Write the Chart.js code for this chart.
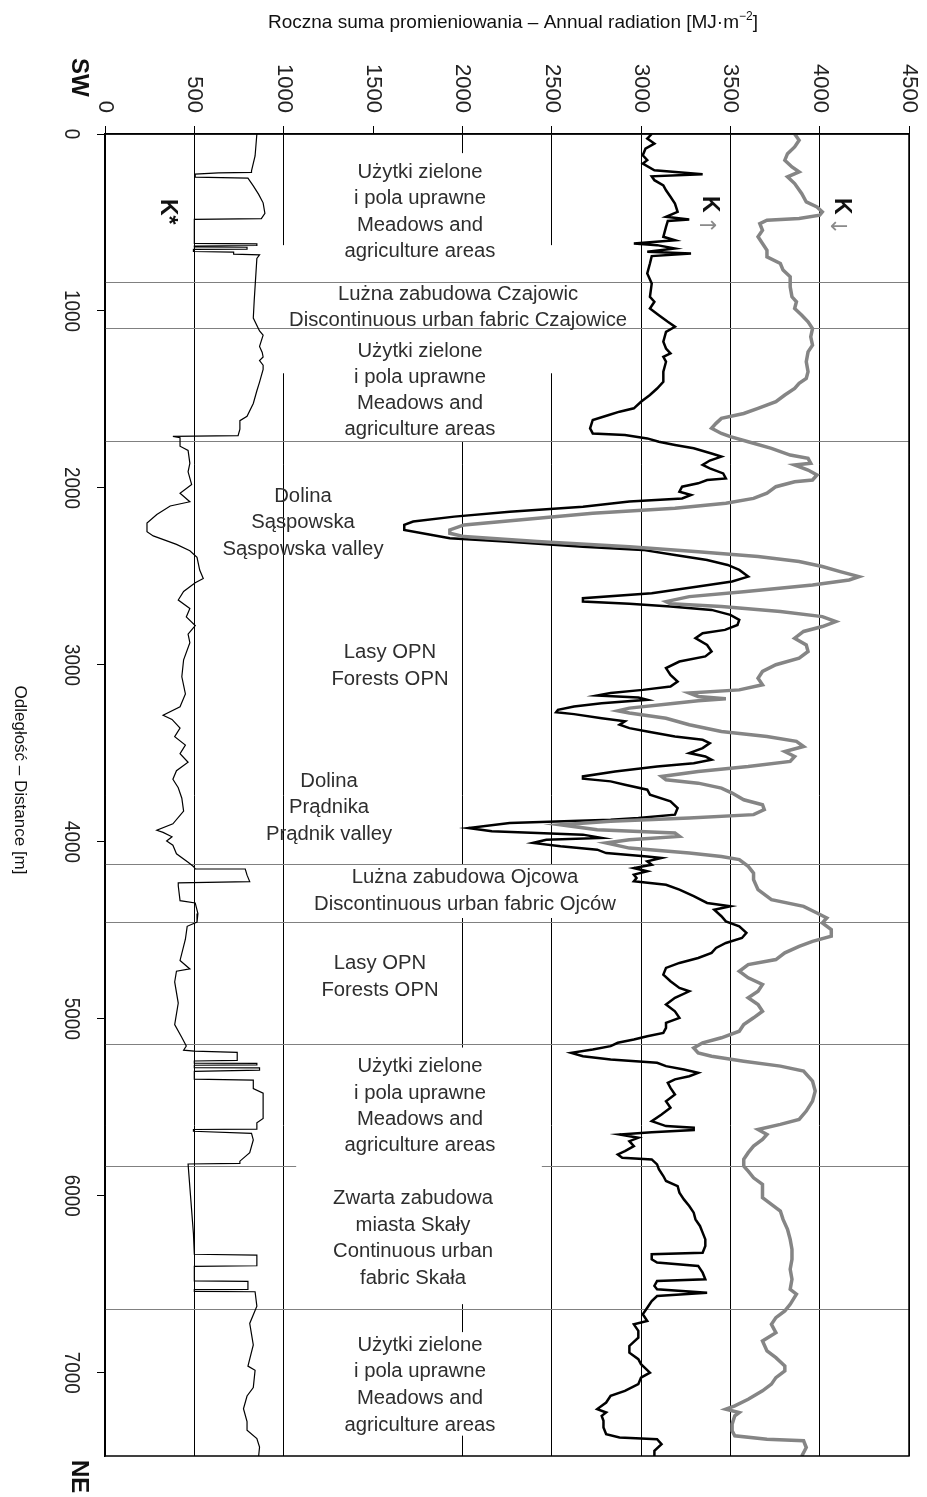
<!DOCTYPE html>
<html>
<head>
<meta charset="utf-8">
<script src="https://cdn.jsdelivr.net/npm/chart.js@4.4.0/dist/chart.umd.min.js"></script>
<style>
  body { margin: 0; background: #fff; }
  canvas { display: block; }
</style>
</head>
<body>
<canvas id="profile" width="927" height="1497"></canvas>
<script>
// radiation ticks (top axis) and distance ticks (left axis)
const radiationTicks = [0, 500, 1000, 1500, 2000, 2500, 3000, 3500, 4000, 4500];
const distanceTicks = [0, 1000, 2000, 3000, 4000, 5000, 6000, 7000];

// K* - net radiation profile
const kStarDist = [0,124,208,217,220,227,244,249,293,341,389,449,478,482,618,621,630,633,638,640,650,652,664,667,679,683,703,944,1040,1113,1137,1200,1234,1260,1280,1306,1330,1402,1451,1523,1595,1620,1668,1704,1709,1716,1764,1788,1861,1909,1981,2030,2078,2102,2150,2198,2247,2271,2319,2355,2392,2464,2512,2536,2585,2633,2681,2729,2778,2826,2874,2971,3067,3164,3236,3284,3308,3357,3405,3453,3501,3550,3598,3646,3694,3753,3826,3898,3934,3946,3971,3995,4019,4067,4115,4139,4152,4153,4188,4224,4231,4248,4332,4345,4405,4453,4477,4550,4670,4718,4731,4791,4911,5032,5105,5153,5177,5182,5189,5235,5238,5250,5252,5260,5262,5275,5277,5290,5297,5341,5346,5394,5420,5563,5587,5623,5625,5635,5647,5684,5756,5804,5816,5820,6214,6330,6335,6395,6398,6480,6483,6528,6530,6540,6542,6624,6721,6842,6962,6986,7083,7131,7203,7276,7324,7372,7420,7470];
const kStarVal = [850,840,820,820,635,505,505,800,830,860,885,895,875,500,500,850,850,500,500,795,795,495,495,720,720,865,850,835,830,865,885,865,880,885,865,885,885,865,850,830,795,755,755,745,380,420,420,465,475,465,485,420,475,365,290,235,235,270,400,475,515,530,550,505,440,410,475,455,505,465,475,440,430,450,420,325,375,420,390,450,420,465,400,380,410,430,440,380,290,325,375,345,380,400,465,495,505,785,795,810,410,410,420,505,520,515,460,450,420,475,400,390,410,390,430,455,440,500,740,740,500,500,850,850,500,500,865,865,500,500,830,830,885,885,850,850,495,495,820,830,810,755,755,465,495,500,850,850,500,500,800,800,500,500,840,850,810,830,800,840,830,795,775,795,795,850,865,860];

// K up - reflected radiation
const kUpDist = [0,26,54,83,120,148,167,205,227,239,261,290,318,355,393,440,468,483,491,525,581,600,619,628,647,666,675,690,732,788,845,920,948,986,1024,1061,1089,1118,1174,1212,1240,1259,1287,1343,1400,1438,1475,1513,1550,1569,1588,1616,1663,1692,1701,1720,1739,1757,1776,1805,1823,1845,1870,1889,1918,1946,1955,1974,1993,2021,2040,2059,2077,2106,2134,2162,2190,2209,2237,2266,2284,2303,2332,2350,2379,2407,2435,2463,2501,2529,2557,2595,2623,2642,2655,2670,2689,2717,2745,2774,2802,2821,2849,2887,2924,2952,2981,3018,3056,3094,3122,3141,3159,3173,3184,3197,3216,3235,3254,3267,3278,3301,3319,3338,3357,3376,3404,3423,3442,3470,3498,3517,3536,3555,3574,3602,3630,3643,3658,3677,3705,3733,3771,3809,3846,3865,3875,3893,3922,3940,3959,3978,3988,4006,4025,4044,4063,4082,4091,4110,4129,4148,4166,4185,4204,4223,4242,4270,4307,4345,4364,4383,4420,4449,4477,4514,4543,4571,4599,4627,4656,4684,4712,4750,4787,4825,4844,4881,4919,4957,4994,5023,5051,5079,5098,5117,5135,5154,5173,5192,5211,5229,5248,5267,5286,5305,5324,5342,5361,5390,5427,5465,5502,5540,5578,5606,5615,5628,5640,5653,5672,5691,5719,5747,5766,5785,5794,5822,5850,5888,5916,5945,5982,6020,6057,6095,6133,6170,6208,6246,6283,6321,6330,6359,6377,6396,6434,6471,6481,6509,6528,6547,6566,6594,6632,6669,6707,6726,6763,6801,6848,6886,6923,6951,6999,7027,7064,7102,7130,7168,7205,7224,7243,7271,7309,7347,7365,7375,7403,7441,7470];
const kUpVal = [3060,3035,3075,3025,3010,3035,3010,3075,3345,3060,3075,3125,3140,3165,3190,3205,3140,3270,3150,3140,3125,3190,2960,3090,3190,3035,3280,3060,3050,3035,3060,3050,3075,3050,3100,3150,3190,3140,3125,3140,3165,3125,3140,3125,3125,3090,3050,3000,2960,2880,2820,2730,2715,2730,2910,3035,3100,3190,3295,3395,3450,3385,3345,3385,3460,3475,3370,3320,3230,3215,3280,3230,2935,2675,2265,1955,1725,1675,1675,1830,1930,2240,2675,3010,3190,3370,3485,3550,3600,3510,3320,3060,2675,2675,2935,3165,3395,3500,3550,3540,3470,3345,3305,3370,3395,3360,3215,3140,3165,3205,3165,3010,2830,2755,2985,3035,2780,2625,2535,2525,2625,2780,2910,2880,2935,3035,3190,3345,3385,3345,3270,3360,3395,3295,3090,2855,2675,2675,2830,2910,3035,3050,3165,3205,3190,2985,2830,2265,2035,2165,2675,2780,2470,2395,2550,2755,2805,3035,3115,3035,3060,2960,3035,2960,2975,2960,3140,3215,3295,3370,3500,3410,3450,3475,3550,3590,3565,3475,3420,3395,3320,3215,3140,3125,3165,3215,3270,3190,3140,3190,3215,3140,3140,3125,3035,2960,2870,2830,2730,2610,2675,2830,3090,3140,3240,3320,3270,3190,3150,3165,3190,3140,3165,3115,3060,3140,3295,3295,3060,2880,2985,2935,2960,2910,2870,2895,3060,3090,3100,3125,3140,3205,3215,3240,3270,3295,3305,3330,3345,3360,3360,3345,3060,3060,3090,3320,3345,3360,3090,3075,3090,3370,3090,3060,3035,3010,3035,2960,2985,2985,2935,2935,2985,3000,3050,3000,2985,2910,2830,2805,2755,2805,2780,2790,2790,2805,2880,3090,3115,3075,3075];

// K down - incoming radiation
const kDownDist = [0,35,73,111,148,186,214,242,280,337,384,412,440,459,478,487,506,544,581,619,657,694,732,769,807,864,920,948,986,1024,1061,1099,1146,1193,1231,1287,1343,1381,1409,1438,1475,1513,1550,1579,1607,1635,1663,1692,1710,1739,1776,1814,1833,1861,1870,1899,1927,1955,1965,1993,2030,2059,2087,2115,2143,2181,2209,2237,2256,2275,2303,2332,2360,2388,2416,2444,2473,2501,2520,2548,2586,2614,2642,2655,2670,2698,2727,2755,2783,2811,2849,2887,2924,2962,2999,3037,3075,3112,3141,3159,3178,3191,3203,3216,3244,3259,3272,3301,3338,3376,3404,3432,3461,3489,3517,3545,3574,3602,3630,3649,3668,3696,3724,3762,3790,3818,3846,3865,3884,3903,3931,3950,3969,3988,4006,4035,4063,4082,4100,4138,4176,4213,4270,4326,4364,4402,4430,4458,4496,4533,4562,4590,4627,4665,4693,4731,4768,4806,4844,4881,4919,4957,4994,5032,5070,5107,5135,5164,5192,5211,5239,5267,5295,5352,5408,5465,5521,5568,5596,5625,5653,5681,5719,5756,5794,5832,5860,5898,5935,5973,6010,6048,6086,6133,6189,6246,6302,6359,6415,6471,6528,6556,6613,6650,6688,6726,6773,6820,6876,6914,6961,6989,7027,7064,7102,7149,7187,7205,7224,7243,7290,7328,7356,7375,7384,7422,7470];
const kDownVal = [3860,3885,3860,3820,3805,3845,3885,3820,3860,3900,3925,3985,4015,4000,3885,3705,3665,3680,3655,3680,3705,3705,3780,3795,3835,3835,3845,3870,3860,3900,3935,3960,3950,3960,3935,3925,3935,3925,3885,3860,3805,3755,3655,3575,3450,3420,3395,3450,3500,3600,3730,3835,3935,3950,3860,3935,3985,3960,3860,3755,3705,3630,3475,3190,2730,2315,2010,1930,1930,2010,2420,2935,3320,3655,3885,4015,4115,4220,4165,3960,3575,3270,3140,3165,3450,3780,4015,4090,4015,3910,3860,3925,3935,3885,3755,3680,3655,3680,3550,3270,3320,3475,3320,3190,2935,2870,2935,3140,3270,3450,3705,3870,3910,3805,3860,3835,3600,3320,3115,3140,3320,3450,3510,3575,3680,3690,3630,3270,2830,2550,2755,3190,3215,2935,2805,2935,3270,3450,3550,3600,3630,3630,3655,3730,3910,3985,4040,4015,4065,4065,3960,3885,3805,3755,3600,3550,3600,3680,3655,3600,3655,3680,3630,3575,3550,3450,3345,3295,3320,3395,3575,3780,3910,3960,3975,3960,3925,3885,3780,3655,3705,3680,3630,3600,3575,3575,3600,3630,3680,3680,3680,3730,3780,3795,3820,3835,3845,3845,3835,3845,3835,3870,3835,3805,3755,3730,3755,3680,3705,3755,3805,3805,3755,3730,3680,3600,3525,3475,3550,3525,3510,3510,3525,3705,3910,3925,3900];

// land-use zone boundaries [m]
const zoneBounds = [837, 1099, 1737, 4124, 4450, 5140, 5833, 6640];

// land-use labels: centre value, baseline distances, text lines
const zoneLabels = [
  { v: 1763, d: [250, 397, 549, 696], lines: ['Użytki zielone', 'i pola uprawne', 'Meadows and', 'agriculture areas'] },
  { v: 1976, d: [939, 1086], lines: ['Lużna zabudowa Czajowic', 'Discontinuous urban fabric Czajowice'] },
  { v: 1763, d: [1261, 1407, 1554, 1701], lines: ['Użytki zielone', 'i pola uprawne', 'Meadows and', 'agriculture areas'] },
  { v: 1108, d: [2079, 2226, 2378], lines: ['Dolina', 'Sąspowska', 'Sąspowska valley'] },
  { v: 1595, d: [2960, 3113], lines: ['Lasy OPN', 'Forests OPN'] },
  { v: 1254, d: [3688, 3835, 3987], lines: ['Dolina', 'Prądnika', 'Prądnik valley'] },
  { v: 2015, d: [4230, 4383], lines: ['Lużna zabudowa Ojcowa', 'Discontinuous urban fabric Ojców'] },
  { v: 1539, d: [4720, 4873], lines: ['Lasy OPN', 'Forests OPN'] },
  { v: 1763, d: [5303, 5455, 5602, 5749], lines: ['Użytki zielone', 'i pola uprawne', 'Meadows and', 'agriculture areas'] },
  { v: 1724, d: [6048, 6200, 6347, 6499], lines: ['Zwarta zabudowa', 'miasta Skały', 'Continuous urban', 'fabric Skała'] },
  { v: 1763, d: [6878, 7025, 7177, 7330], lines: ['Użytki zielone', 'i pola uprawne', 'Meadows and', 'agriculture areas'] }
];

// parts of the grid hidden behind the label boxes [v0, v1, d0, d1]
const gridMasks = [
  [920, 2610, 628, 1352],
  [1800, 2200, 108, 1740],
  [1100, 2800, 4126, 4430],
  [1800, 2200, 5162, 6612],
  [1800, 2200, 6770, 7355]
];
const lineGaps = [[1070, 2445, 5820, 5846]];

const SANS = '"Liberation Sans", Arial, sans-serif';

function toPoints(dist, val) {
  return dist.map((d, i) => ({ x: val[i], y: d }));
}

// text rotated 90deg clockwise (reads top to bottom)
function rotText(ctx, text, px, py, font, align, color, sx) {
  ctx.save();
  ctx.translate(px, py);
  ctx.rotate(Math.PI / 2);
  ctx.scale(sx || 1, 1);
  ctx.font = font;
  ctx.fillStyle = color || '#000';
  ctx.textAlign = align;
  ctx.textBaseline = 'middle';
  ctx.fillText(text, 0, 0);
  ctx.restore();
}

function boxPx(x, y, b) {
  const x0 = x.getPixelForValue(b[0]), x1 = x.getPixelForValue(b[1]);
  const y0 = y.getPixelForValue(b[2]), y1 = y.getPixelForValue(b[3]);
  return [x0, y0, x1 - x0, y1 - y0];
}

const decor = {
  id: 'decor',
  beforeDatasetsDraw(chart) {
    const { ctx, chartArea, scales: { x, y } } = chart;
    ctx.save();
    ctx.fillStyle = '#fff';
    gridMasks.forEach(b => ctx.fillRect(...boxPx(x, y, b)));
    ctx.strokeStyle = '#808080';
    ctx.lineWidth = 1;
    zoneBounds.forEach(d => {
      const py = Math.round(y.getPixelForValue(d)) + 0.5;
      ctx.beginPath();
      ctx.moveTo(chartArea.left, py);
      ctx.lineTo(chartArea.right, py);
      ctx.stroke();
    });
    lineGaps.forEach(b => ctx.fillRect(...boxPx(x, y, b)));
    ctx.restore();
  },
  afterDatasetsDraw(chart) {
    const { ctx, scales: { x, y } } = chart;
    ctx.save();
    ctx.font = '20px ' + SANS;
    const sx = 338 / ctx.measureText('Discontinuous urban fabric Czajowice').width;
    ctx.fillStyle = '#2e2e2e';
    ctx.textAlign = 'center';
    ctx.textBaseline = 'alphabetic';
    zoneLabels.forEach(z => {
      const px = x.getPixelForValue(z.v);
      z.lines.forEach((t, i) => {
        ctx.save();
        ctx.translate(px, y.getPixelForValue(z.d[i]));
        ctx.scale(sx, 1);
        ctx.fillText(t, 0, 0);
        ctx.restore();
      });
    });
    ctx.restore();
  },
  afterDraw(chart) {
    const { ctx, chartArea: a, scales: { x, y } } = chart;
    ctx.save();
    ctx.strokeStyle = '#000';
    ctx.lineWidth = 1.5;
    ctx.strokeRect(a.left, a.top, a.right - a.left, a.bottom - a.top);

    radiationTicks.forEach(v => rotText(ctx, String(v), x.getPixelForValue(v), 113, '22px ' + SANS, 'right', '#222'));
    distanceTicks.forEach(d => rotText(ctx, String(d), 71, y.getPixelForValue(d), '22px ' + SANS, 'center', '#222', 0.86));

    rotText(ctx, 'SW', 79, 58, 'bold 24px ' + SANS, 'left', '#111');
    rotText(ctx, 'NE', 79, 1460, 'bold 24px ' + SANS, 'left', '#111');
    rotText(ctx, 'Odległość – Distance [m]', 20, 780, '17px ' + SANS, 'center', '#111');

    rotText(ctx, 'K*', 167, 199, 'bold 23px ' + SANS, 'left', '#111');
    rotText(ctx, 'K', 709, 196, 'bold 23px ' + SANS, 'left', '#111');
    rotText(ctx, '↑', 706, 216, '22px "DejaVu Sans", sans-serif', 'left', '#8a8a8a');
    rotText(ctx, 'K', 841, 198, 'bold 23px ' + SANS, 'left', '#111');
    rotText(ctx, '↓', 837, 217, '22px "DejaVu Sans", sans-serif', 'left', '#8a8a8a');

    // title with superscript
    const main = 'Roczna suma promieniowania – Annual radiation [MJ·m';
    ctx.fillStyle = '#111';
    ctx.textBaseline = 'alphabetic';
    ctx.textAlign = 'left';
    ctx.font = '19px ' + SANS;
    const w1 = ctx.measureText(main).width;
    ctx.font = '12px ' + SANS;
    const w2 = ctx.measureText('−2').width;
    ctx.font = '19px ' + SANS;
    const w3 = ctx.measureText(']').width;
    const tx = 513 - (w1 + w2 + w3) / 2;
    ctx.fillText(main, tx, 28);
    ctx.font = '12px ' + SANS;
    ctx.fillText('−2', tx + w1, 20);
    ctx.font = '19px ' + SANS;
    ctx.fillText(']', tx + w1 + w2, 28);
    ctx.restore();
  }
};

const line = (label, dist, val, color, width, order) => ({
  label, data: toPoints(dist, val), showLine: true, borderColor: color,
  borderWidth: width, pointRadius: 0, tension: 0, order,
  borderJoinStyle: 'miter', fill: false
});

new Chart(document.getElementById('profile'), {
  type: 'scatter',
  data: {
    datasets: [
      line('K↓', kDownDist, kDownVal, '#858585', 3.5, 0),
      line('K↑', kUpDist, kUpVal, '#000', 2.5, 1),
      line('K*', kStarDist, kStarVal, '#000', 1.2, 2)
    ]
  },
  options: {
    responsive: false,
    devicePixelRatio: 1,
    animation: false,
    layout: { padding: { top: 126, left: 97, right: 18, bottom: 41 } },
    plugins: { legend: { display: false }, tooltip: { enabled: false }, title: { display: false } },
    scales: {
      x: {
        type: 'linear', position: 'top', min: 0, max: 4500,
        ticks: { display: false },
        afterBuildTicks: s => { s.ticks = radiationTicks.map(v => ({ value: v })); },
        grid: {
          color: c => (c.tick && c.tick.value === 1500) ? 'rgba(0,0,0,0)' : '#000',
          tickColor: '#000', tickLength: 8, lineWidth: 1
        },
        border: { display: true, color: '#000', width: 1.5 },
        afterFit: s => { s.height = 8; }
      },
      y: {
        type: 'linear', reverse: true, min: 0, max: 7470,
        ticks: { display: false },
        afterBuildTicks: s => { s.ticks = distanceTicks.map(v => ({ value: v })); },
        grid: { drawOnChartArea: false, tickColor: '#000', tickLength: 8 },
        border: { display: true, color: '#000', width: 1.5 },
        afterFit: s => { s.width = 8; }
      }
    }
  },
  plugins: [decor]
});
</script>
</body>
</html>
